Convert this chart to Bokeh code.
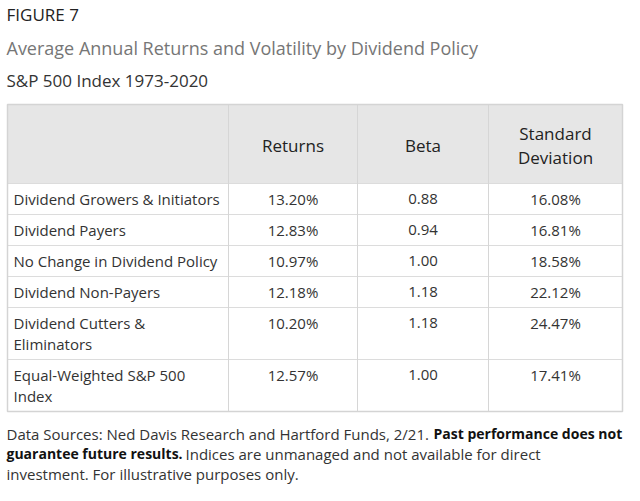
from bokeh.plotting import figure
from bokeh.models import Range1d
from bokeh.core.properties import value
from bokeh.embed import file_html
from bokeh.resources import INLINE

# ---- data ----
title = "FIGURE 7"
subtitle = "Average Annual Returns and Volatility by Dividend Policy"
subsubtitle = "S&P 500 Index 1973-2020"
headers = ["Returns", "Beta", "Standard\nDeviation"]
categories = [
    "Dividend Growers & Initiators",
    "Dividend Payers",
    "No Change in Dividend Policy",
    "Dividend Non-Payers",
    "Dividend Cutters &\nEliminators",
    "Equal-Weighted S&P 500\nIndex",
]
returns = [13.20, 12.83, 10.97, 12.18, 10.20, 12.57]
beta = [0.88, 0.94, 1.00, 1.18, 1.18, 1.00]
std_dev = [16.08, 16.81, 18.58, 22.12, 24.47, 17.41]
foot_normal_1 = "Data Sources: Ned Davis Research and Hartford Funds, 2/21."
foot_bold_1 = "Past performance does not"
foot_bold_2 = "guarantee future results."
foot_normal_2 = "Indices are unmanaged and not available for direct"
foot_normal_3 = "investment. For illustrative purposes only."

# ---- layout ----
W, H = 624, 485
FONT = value("Open Sans")
col_edges = [7, 228, 357, 488, 622]
table_top = 104
header_h = 79
line_h = 21
pad = 10

p = figure(width=W, height=H, output_backend="svg", toolbar_location=None,
           x_range=Range1d(0, W), y_range=Range1d(H, 0),
           min_border=0, outline_line_color=None, background_fill_color="white",
           border_fill_color="white")
p.axis.visible = False
p.grid.visible = False

def txt(x, y, t, size="15px", color="#333333", align="left", style="normal"):
    p.text(x=[x], y=[y], text=[t], text_font=FONT, text_font_size=size,
           text_color=color, text_align=align, text_baseline="middle",
           text_font_style=style)

# titles
txt(6, 14, title, size="17px", color="#222222")
txt(6, 47, subtitle, size="18px", color="#767676")
txt(6, 80, subsubtitle, size="17px", color="#333333")

# row geometry
row_tops = []
y = table_top + header_h
for c in categories:
    row_tops.append(y)
    y += pad + line_h * len(c.split("\n"))
table_bottom = y

# header background
p.quad(left=[col_edges[0]], right=[col_edges[-1]], top=[table_top],
       bottom=[table_top + header_h], fill_color="#e6e6e6", line_color=None)

# grid lines
hy = [table_top + header_h] + row_tops[1:]
p.segment(x0=[col_edges[0]] * len(hy), x1=[col_edges[-1]] * len(hy), y0=hy, y1=hy,
          line_color="#dcdcdc", line_width=1)
p.segment(x0=col_edges[1:-1], x1=col_edges[1:-1],
          y0=[table_top] * 3, y1=[table_bottom] * 3, line_color="#d6d6d6", line_width=1)
# outer border
p.quad(left=[col_edges[0]], right=[col_edges[-1]], top=[table_top],
       bottom=[table_bottom], fill_color=None, line_color="#d4d4d4", line_width=1.5)

# header text
centers = [(col_edges[i] + col_edges[i + 1]) / 2 for i in range(1, 4)]
for cx, h in zip(centers, headers):
    lines = h.split("\n")
    mid = table_top + header_h / 2 + 1
    for i, ln in enumerate(lines):
        ly = mid + (i - (len(lines) - 1) / 2) * 24
        txt(cx, ly, ln, size="17px", color="#222222", align="center")

# body
for r, c in enumerate(categories):
    top = row_tops[r]
    for i, ln in enumerate(c.split("\n")):
        txt(13, top + 15.5 + line_h * i, ln)
    ty = top + 15.5
    txt(centers[0], ty, f"{returns[r]:.2f}%", align="center")
    txt(centers[1], ty, f"{beta[r]:.2f}", align="center")
    txt(centers[2], ty, f"{std_dev[r]:.2f}%", align="center")

# footnote
fy = table_bottom + 22
txt(6, fy, foot_normal_1)
txt(433, fy, foot_bold_1, size="14px", color="#111111", style="bold")
txt(6, fy + 20, foot_bold_2, size="14px", color="#111111", style="bold")
txt(185, fy + 20, foot_normal_2)
txt(6, fy + 40, foot_normal_3)

open("out.html", "w").write(file_html(p, INLINE))
